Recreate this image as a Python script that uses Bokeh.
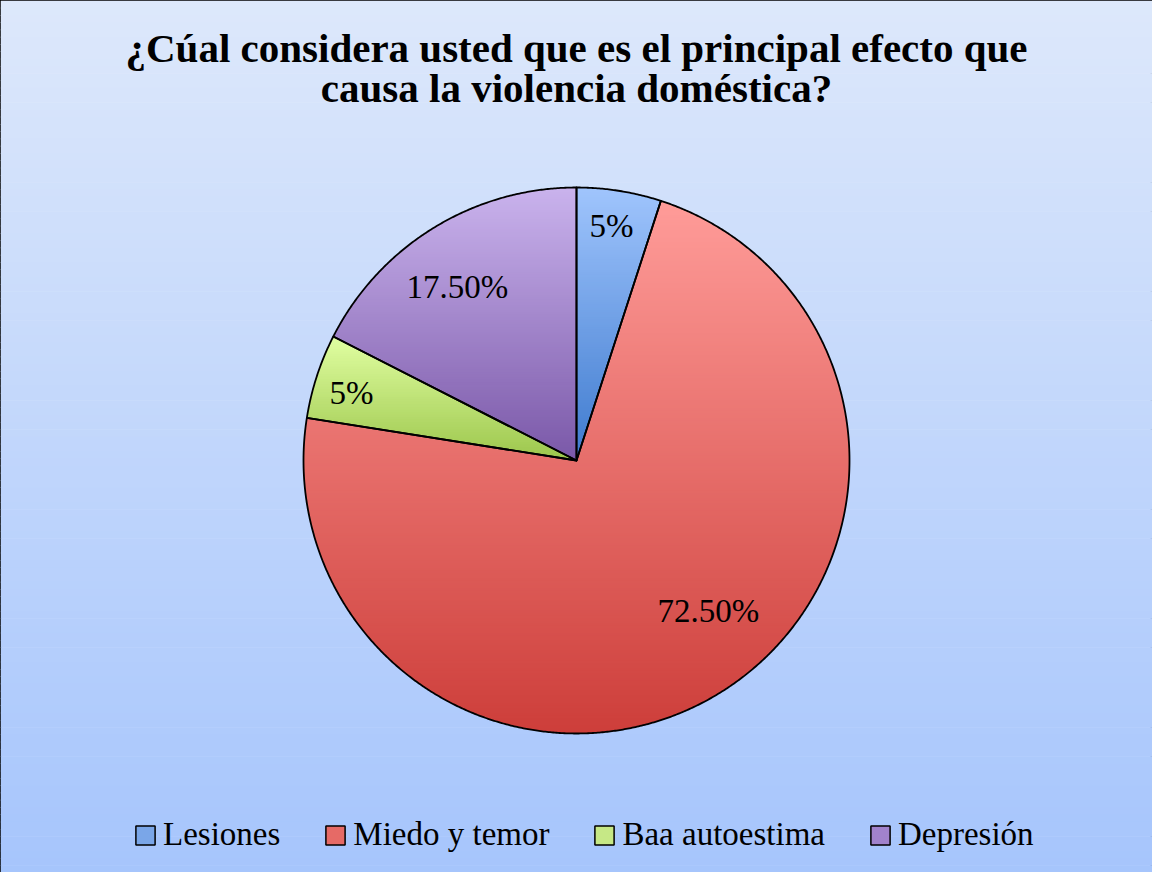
import numpy as np
from bokeh.plotting import figure
from bokeh.models import ColumnDataSource, Range1d, Legend, LegendItem
from bokeh.core.properties import value
from bokeh.embed import file_html
from bokeh.resources import INLINE

# ---------------- data ----------------
title_lines = ["¿Cúal considera usted que es el principal efecto que",
               "causa la violencia doméstica?"]
categories = ["Lesiones", "Miedo y temor", "Baa autoestima", "Depresión"]
percent = [5.0, 72.5, 5.0, 17.5]
labels = ["5%", "72.50%", "5%", "17.50%"]

# ---------------- style ----------------
W, H = 1152, 872
CX, CY, R = 576, 460, 273
top_cols = [(160, 197, 253), (255, 156, 153), (225, 255, 162), (202, 179, 237)]
bot_cols = [(62, 122, 206), (205, 62, 58), (156, 198, 76), (122, 88, 168)]
mid_cols = ["#7aa6e8", "#e66a66", "#c6e886", "#a182cc"]
label_r = [0.87, 0.732, 0.86, 0.772]
label_shift = [0.5, 9.8, 1.4, 2.9]
bg_top, bg_bot = (221, 232, 251), (166, 197, 252)
SERIF = "Liberation Serif"

p = figure(width=W, height=H, output_backend="svg", toolbar_location=None,
           x_range=Range1d(0, W), y_range=Range1d(H, 0), min_border=0,
           outline_line_color="black", outline_line_width=2)
p.axis.visible = False
p.grid.visible = False
p.background_fill_color = None
p.border_fill_color = "#dde8fb"


def hexc(c):
    return "#%02x%02x%02x" % tuple(int(round(v)) for v in c)


def lerp(a, b, t):
    return tuple(a[i] + (b[i] - a[i]) * t for i in range(3))


# background gradient
nb = 120
edges = np.linspace(0, H, nb + 1)
p.quad(left=0, right=W, top=edges[:-1], bottom=edges[1:] + 0.6,
       fill_color=[hexc(lerp(bg_top, bg_bot, (e + 0.5 * H / nb) / H)) for e in edges[:-1]],
       line_color=None)


def clip_half(pts, yc, keep_ge):
    out = []
    n = len(pts)
    for i in range(n):
        P, Q = pts[i], pts[(i + 1) % n]
        inP = P[1] >= yc if keep_ge else P[1] <= yc
        inQ = Q[1] >= yc if keep_ge else Q[1] <= yc
        if inP:
            out.append(P)
        if inP != inQ:
            t = (yc - P[1]) / (Q[1] - P[1])
            out.append((P[0] + t * (Q[0] - P[0]), yc))
    return out


# slices
total = sum(percent)
start = 90.0
slice_polys = []
band_xs, band_ys, band_cols = [], [], []
label_x, label_y = [], []
for i, v in enumerate(percent):
    sweep = 360.0 * v / total
    a0, a1 = start, start - sweep
    th = np.radians(np.linspace(a0, a1, max(8, int(sweep * 3))))
    xs = [CX] + list(CX + R * np.cos(th))
    ys = [CY] + list(CY - R * np.sin(th))
    slice_polys.append((xs, ys))
    pts = list(zip(xs, ys))
    ytop, ybot = min(ys), max(ys)
    nbands = max(10, int((ybot - ytop) / 2.5))
    be = np.linspace(ytop, ybot, nbands + 1)
    for k in range(nbands):
        y0, y1 = be[k] - 0.5, be[k + 1] + 0.5
        poly = clip_half(clip_half(pts, y0, True), y1, False)
        if len(poly) < 3:
            continue
        t = (0.5 * (be[k] + be[k + 1]) - ytop) / (ybot - ytop)
        band_xs.append([q[0] for q in poly])
        band_ys.append([q[1] for q in poly])
        band_cols.append(hexc(lerp(top_cols[i], bot_cols[i], t)))
    mid = np.radians(0.5 * (a0 + a1) + label_shift[i])
    label_x.append(CX + R * label_r[i] * np.cos(mid))
    label_y.append(CY - R * label_r[i] * np.sin(mid))
    start = a1

p.patches(xs=band_xs, ys=band_ys, fill_color=band_cols, line_color=None)
p.patches(xs=[s[0] for s in slice_polys], ys=[s[1] for s in slice_polys],
          fill_color=None, line_color="black", line_width=1.8, line_join="round")

# data labels
p.text(x=label_x, y=label_y, text=labels, text_font=value(SERIF), text_font_size="33px",
       text_align="center", text_baseline="middle", text_color="black")

# title
p.text(x=[W / 2, W / 2], y=[47.5, 87.5], text=title_lines, text_font=value(SERIF),
       text_font_size="41px", text_font_style="bold", text_align="center",
       text_baseline="middle", text_color="black")

# legend (swatch renderers sit outside the visible range)
items = []
for i, c in enumerate(categories):
    src = ColumnDataSource(dict(l=[-50], r=[-40], t=[-50], b=[-40]))
    rr = p.quad(left="l", right="r", top="t", bottom="b", source=src,
                fill_color=mid_cols[i], line_color="black", line_width=1.5)
    items.append(LegendItem(label=c, renderers=[rr]))
legend = Legend(items=items, orientation="horizontal", location=(133, 19),
                glyph_width=24, glyph_height=24, label_standoff=6, spacing=43,
                padding=0, margin=0, border_line_color=None, background_fill_alpha=0,
                label_text_font=SERIF, label_text_font_size="33px", label_text_color="black")
p.add_layout(legend)

open("out.html", "w").write(file_html(p, INLINE))
